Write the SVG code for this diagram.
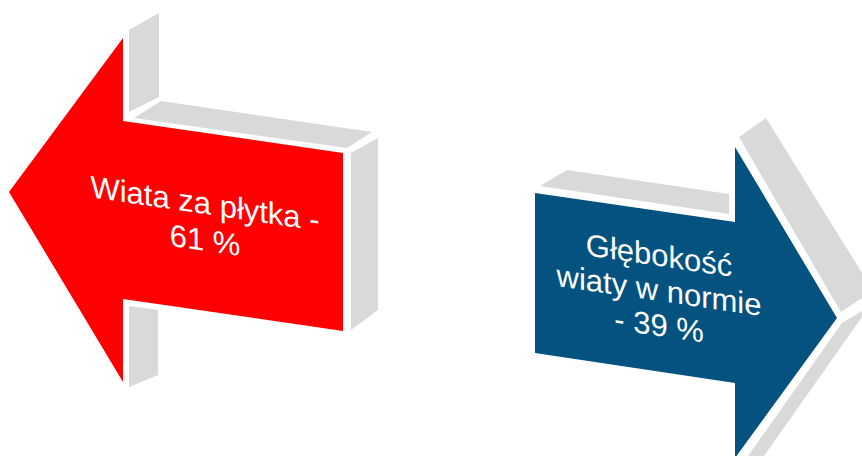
<svg xmlns="http://www.w3.org/2000/svg" width="862" height="456" viewBox="0 0 862 456">
<style>
.side{fill:#D9D9D9;}
.lbl{font-family:"Liberation Sans",Arial,sans-serif;font-size:31px;fill:#FFFFFF;text-anchor:middle;}
</style>
<rect width="862" height="456" fill="#FFFFFF"/>
<g id="arrow-left">
<polygon class="side" points="129,30 159,13 159,97 129,112"/>
<polygon class="side" points="134,118 161,101 372,132 347,148"/>
<polygon class="side" points="351,153 378,138 378,310 351,330"/>
<polygon class="side" points="129,306 158,310 158,375 129,387"/>
<polygon fill="#FF0000" points="9,192 123,38 123,121 343,153 343,331 123,299 123,382"/>
<g transform="translate(205,214) skewY(8.3)">
<text class="lbl" x="0" y="0">Wiata za płytka -</text>
<text class="lbl" x="0" y="37">61 %</text>
</g>
</g>
<g id="arrow-right">
<polygon class="side" points="540,186 567,170 729,194 729,214"/>
<polygon class="side" points="739,137 766,118 862,273 862,298 841,312"/>
<polygon class="side" points="842,323 862,311 862,317 764,456 748,456"/>
<polygon fill="#03527F" points="535,193 735,222 735,147 837,318 735,458 735,383 535,353"/>
<g transform="translate(659,266) skewY(8.3)">
<text class="lbl" x="0" y="0">Głębokość</text>
<text class="lbl" x="0" y="35">wiaty w normie</text>
<text class="lbl" x="0" y="70">- 39 %</text>
</g>
</g>
<g id="connectors"></g>
</svg>
